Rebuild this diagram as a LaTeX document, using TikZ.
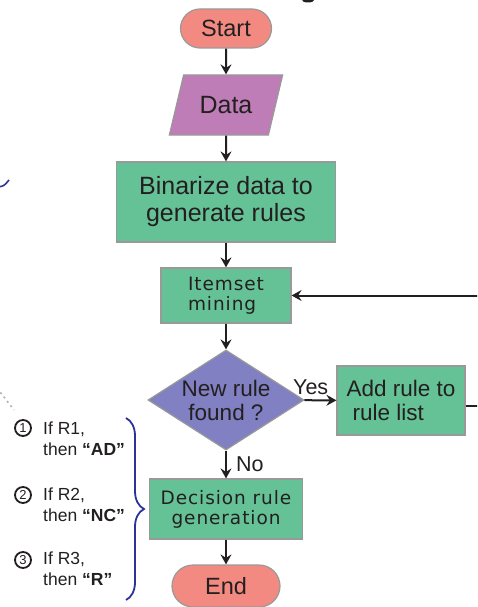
\documentclass[tikz,border=0pt]{standalone}
\usepackage{fontspec}
\setmainfont{Liberation Sans}
\newfontfamily\boxfont{DejaVu Sans}[LetterSpace=5]
\usetikzlibrary{arrows.meta, positioning, shapes, shapes.geometric, shapes.misc, decorations.pathreplacing}

\definecolor{termcol}{RGB}{242,138,130}
\definecolor{datacol}{RGB}{190,125,182}
\definecolor{stepcol}{RGB}{101,194,150}
\definecolor{testcol}{RGB}{128,128,194}
\definecolor{bracecol}{RGB}{43,52,150}
\definecolor{inkcol}{RGB}{35,31,32}

\tikzset{
  block/.style={draw=gray!80, line width=1.2pt, text=inkcol, inner sep=2pt, align=center},
  terminal/.style={block, rounded rectangle, fill=termcol, font=\fontsize{23.5}{26}\selectfont},
  iobox/.style={block, trapezium, trapezium left angle=66, trapezium right angle=114, trapezium stretches=true, fill=datacol, font=\fontsize{25}{28}\selectfont},
  process/.style={block, rectangle, fill=stepcol, font=\fontsize{22.5}{24}\selectfont},
  minor/.style={process, font=\boxfont\fontsize{18.5}{20}\selectfont},
  decide/.style={block, diamond, aspect=1.56, inner sep=-2pt, fill=testcol, font=\fontsize{22.5}{24}\selectfont},
  flow/.style={line width=2pt, inkcol, -{Stealth[length=10pt,width=11pt,inset=3.5pt]}},
  edgetag/.style={text=inkcol, inner sep=1pt, font=\fontsize{21.5}{24}\selectfont},
  rulebrace/.style={decorate, decoration={brace, amplitude=18pt}, bracecol, line width=1.8pt},
  rulenum/.style={circle, draw=inkcol, line width=1.8pt, minimum size=16pt, inner sep=0pt, text=inkcol, font=\fontsize{13}{13}\selectfont},
  ruletext/.style={anchor=north west, align=left, inner sep=0pt, text=inkcol, font=\fontsize{17.5}{21}\selectfont}
}

\begin{document}
\begin{tikzpicture}[x=1pt, y=-1pt]
  \useasboundingbox (0,0) rectangle (477,607);
  \clip (0,0) rectangle (477,607);
  % main column
  \node[terminal, minimum width=95pt, minimum height=39pt] (start) at (226,28.5) {Start};
  \node[iobox, minimum width=114pt, minimum height=60pt] (data) at (226,105) {Data};
  \node[process, minimum width=219pt, minimum height=80pt, font=\fontsize{25}{27}\selectfont] (binarize) at (226,202) {Binarize data to\\generate rules};
  \node[minor, align=left, minimum width=130pt, minimum height=55pt] (itemset) at (226,295.5) {Itemset\\mining};
  \node[decide, minimum width=156pt, minimum height=100pt] (newrule) at (226,400) {New rule\\found ?};
  \node[process, align=left, minimum width=128pt, minimum height=69pt] (addrule) at (401,400.5) {Add rule to\\\hspace*{6pt}rule list};
  \node[minor, minimum width=153pt, minimum height=60pt] (decision) at (226,509) {Decision rule\\generation};
  \node[terminal, minimum width=112pt, minimum height=42pt] (stop) at (226,586) {End};

  \draw[flow] (start) -- (data);
  \draw[flow] (data) -- (binarize);
  \draw[flow] (binarize) -- (itemset);
  \draw[flow] (itemset) -- (newrule);
  \draw[flow] (newrule) -- node[edgetag, pos=0.2, above=4pt] {Yes} (addrule);
  \draw[flow] (newrule) -- node[edgetag, midway, right=8pt] {No} (decision);
  \draw[flow] (decision) -- (stop);
  % loop back to the mining step, leaves on the right
  \draw[flow] ([yshift=-5pt]addrule.east) -- ++(40,0) |- (itemset.east);

  % the three rules
  \node[rulenum] (num1) at (23,428) {1};
  \node[ruletext] (rule1) at (43,422) {If R1,\\then \textbf{“AD”}};
  \node[rulenum] (num2) at (23,495) {2};
  \node[ruletext] (rule2) at (43,488) {If R2,\\then \textbf{“NC”}};
  \node[rulenum] (num3) at (23,560) {3};
  \node[ruletext] (rule3) at (43,552) {If R3,\\then \textbf{“R”}};
  \coordinate (bracetop) at (126,418);
  \coordinate (bracebot) at (126,600);
  \draw[rulebrace] (bracetop) -- (bracebot);

  % bits of the neighbouring panel
  \draw[gray!60, line width=1.6pt, dash pattern=on 2pt off 3.5pt] (-3,388) -- (14,410);
  \draw[bracecol, line width=1.6pt] (-2,187) .. controls (4,186) .. (9,180);
  \fill[inkcol] (308,0) ellipse (6pt and 2.5pt);
\end{tikzpicture}
\end{document}
